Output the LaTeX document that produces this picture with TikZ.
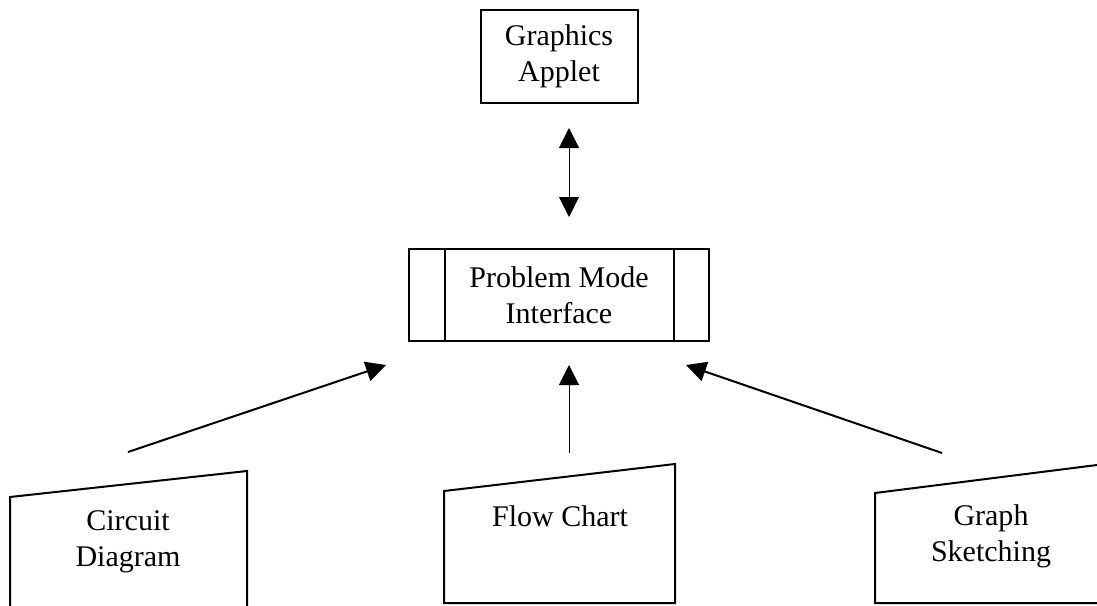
\documentclass[tikz,border=0pt]{standalone}
\usepackage{fontspec}
\setmainfont{Liberation Serif}
\usetikzlibrary{arrows.meta}

\begin{document}
\begin{tikzpicture}[x=0.5pt, y=-0.5pt,
    font=\fontsize{15}{18}\selectfont,
    >={Triangle[width=10pt,length=10pt]},
    box/.style={draw, line width=1pt, align=center, inner sep=0pt},
    shp/.style={line width=1pt, line join=miter},
    txt/.style={align=center, inner sep=0pt}]
            \useasboundingbox (0,0) rectangle (1097,605);
               % applet and interface
               \node [box, minimum width=78.5pt, minimum height=46.5pt] (applet) at (559,56.5) {Graphics\\Applet};
               \node [box, minimum width=150pt, minimum height=46pt] (pmi) at (559,295) {Problem Mode\\Interface};
               \draw [line width=1pt] ([xshift=18.5pt]pmi.north west) -- ([xshift=18.5pt]pmi.south west);
               \draw [line width=1pt] ([xshift=-18pt]pmi.north east) -- ([xshift=-18pt]pmi.south east);
               \draw [line width=0.5pt, <->, shorten <=12pt, shorten >=15.5pt] ([xshift=5pt]applet.south) -- ([xshift=5pt]pmi.north);
               % manual input shapes
               \draw [shp] (10,610) -- (10,497) -- (247,471) -- (247,610);
               \draw [shp] (444,603) -- (444,491) -- (675,464) -- (675,603) -- cycle;
               \draw [shp] (1097,603) -- (875,603) -- (875,493) -- (1097,465);
               \node [txt] (circuit) at (128,542) {Circuit\\Diagram};
               \node [txt] (flow) at (560,516) {Flow Chart};
               \node [txt] (sketch) at (991,536) {Graph\\Sketching};
               % inputs to the interface
               \coordinate (circuit in) at (128,452);
               \coordinate (flow in) at (569,453);
               \coordinate (sketch in) at (942,453);
               \coordinate (circuit end) at (386,365);
               \coordinate (flow end) at (569,365);
               \coordinate (sketch end) at (686,365);
               \draw [line width=1pt, ->] (circuit in) -- (circuit end);
               \draw [line width=0.5pt, ->] (flow in) -- (flow end);
               \draw [line width=1pt, ->] (sketch in) -- (sketch end);
           \end{tikzpicture}
\end{document}
